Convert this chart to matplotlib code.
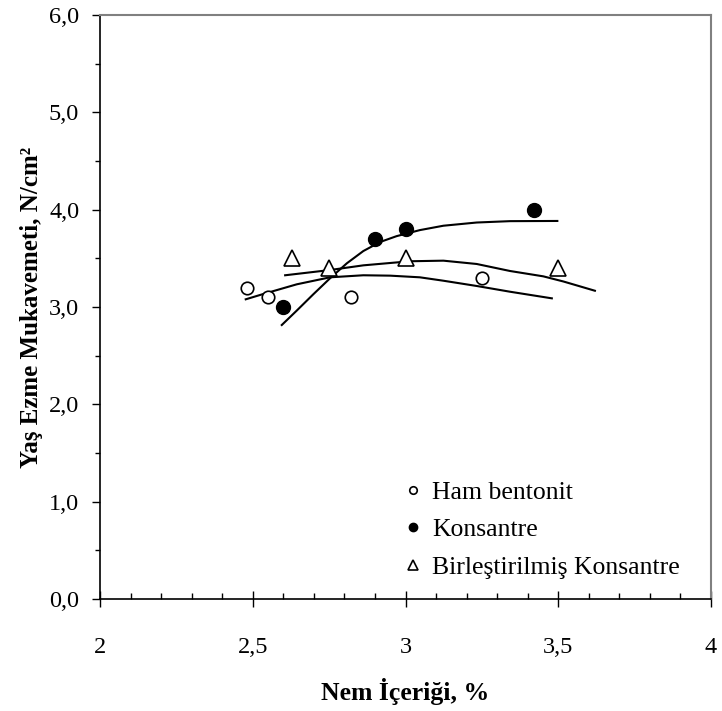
import numpy as np
import matplotlib
matplotlib.use("Agg")
import matplotlib.pyplot as plt
from matplotlib.ticker import MultipleLocator, FuncFormatter

# ölçülen noktalar
ham_x = [2.48, 2.55, 2.82, 3.25]
ham_y = [3.2, 3.1, 3.1, 3.3]
kons_x = [2.6, 2.9, 3.0, 3.42]
kons_y = [3.0, 3.7, 3.8, 4.0]
birl_x = [2.63, 2.75, 3.0, 3.5]
birl_y = [3.5, 3.4, 3.5, 3.4]

# eğilim çizgileri (grafikten okunan noktalar)
ham_fit_x = [2.477, 2.535, 2.644, 2.753, 2.862, 2.95, 3.047, 3.124, 3.233, 3.342, 3.479]
ham_fit_y = [3.079, 3.134, 3.233, 3.305, 3.326, 3.322, 3.305, 3.270, 3.216, 3.157, 3.089]
kons_fit_x = [2.595, 2.644, 2.698, 2.753, 2.808, 2.862, 2.917, 2.971, 3.047, 3.124, 3.233, 3.342, 3.497]
kons_fit_y = [2.815, 2.963, 3.130, 3.295, 3.449, 3.575, 3.668, 3.728, 3.790, 3.835, 3.868, 3.882, 3.884]
birl_fit_x = [2.606, 2.753, 2.862, 3.015, 3.124, 3.233, 3.342, 3.451, 3.517, 3.620]
birl_fit_y = [3.326, 3.380, 3.428, 3.470, 3.476, 3.442, 3.370, 3.315, 3.262, 3.167]

labels = ["Ham bentonit", "Konsantre", "Birleştirilmiş Konsantre"]

plt.rcParams['font.family'] = ['Liberation Serif', 'DejaVu Serif']

fig = plt.figure(figsize=(7.22, 7.11), dpi=100)
ax = fig.add_axes([100/722, 112/711, 611/722, 584/711])

lw = 1.5
ax.plot(ham_fit_x, ham_fit_y, color='black', lw=lw)
ax.plot(kons_fit_x, kons_fit_y, color='black', lw=lw)
ax.plot(birl_fit_x, birl_fit_y, color='black', lw=lw)

ax.plot(ham_x, ham_y, 'o', ms=9, mfc='white', mec='black', mew=1.2, ls='none', label=labels[0])
ax.plot(kons_x, kons_y, 'o', ms=10, mfc='black', mec='black', ls='none', label=labels[1])
ax.plot(birl_x, birl_y, '^', ms=11, mfc='white', mec='black', mew=1.2, ls='none', label=labels[2])

ax.set_xlim(2, 4)
ax.set_ylim(0, 6)
ax.xaxis.set_major_locator(MultipleLocator(0.5))
ax.xaxis.set_minor_locator(MultipleLocator(0.1))
ax.yaxis.set_major_locator(MultipleLocator(1.0))
ax.yaxis.set_minor_locator(MultipleLocator(0.5))
ax.xaxis.set_major_formatter(FuncFormatter(lambda v, p: ('%g' % v).replace('.', ',')))
ax.yaxis.set_major_formatter(FuncFormatter(lambda v, p: ('%.1f' % v).replace('.', ',')))

ax.tick_params(axis='x', which='major', direction='inout', length=11, width=1, pad=22, labelsize=17.5)
ax.tick_params(axis='x', which='minor', direction='in', length=4, width=1)
ax.tick_params(axis='y', which='major', direction='out', length=6, width=1, pad=9, labelsize=17.5)
ax.tick_params(axis='y', which='minor', direction='out', length=3.5, width=1)

for s in ['left', 'bottom']:
    ax.spines[s].set_color('black')
    ax.spines[s].set_linewidth(1.2)
for s in ['top', 'right']:
    ax.spines[s].set_color('#808080')
    ax.spines[s].set_linewidth(1.5)

ax.set_xlabel('Nem İçeriği, %', fontsize=18.5, fontweight='bold', labelpad=14)
ax.set_ylabel('Yaş Ezme Mukavemeti, N/cm²', fontsize=18, fontweight='bold', labelpad=4)

ax.legend(loc='lower left', bbox_to_anchor=(0.495, 0.035), frameon=False, fontsize=18.5,
          markerscale=0.6, handlelength=0.8, handletextpad=0.35, labelspacing=0.55,
          borderaxespad=0, borderpad=0)

fig.savefig('out.png', dpi=100)
